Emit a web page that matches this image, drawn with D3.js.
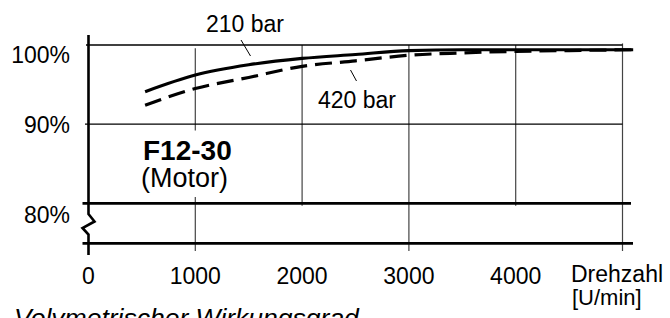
<!DOCTYPE html>
<html><head><meta charset="utf-8">
<script src="https://cdn.jsdelivr.net/npm/d3@7"></script>
<style>
body{margin:0;background:#fff;}
svg{display:block;}
text{font-family:"Liberation Sans",Arial,Helvetica,sans-serif;fill:#000;}
</style></head>
<body>
<svg id="c" width="670" height="318"></svg>
<script>
// Data
const rpm    = [530, 1000, 1500, 2000, 2500, 3000, 3500, 4000, 4500, 5100];
const eff210 = [94.1, 96.2, 97.5, 98.3, 98.8, 99.3, 99.4, 99.4, 99.4, 99.4];
const eff420 = [92.4, 94.5, 95.9, 97.3, 98.0, 98.7, 99.0, 99.2, 99.3, 99.4];
const xTicks = [0, 1000, 2000, 3000, 4000];
const xTickLabels = ["0", "1000", "2000", "3000", "4000"];
const yTicks = [100, 90, 80];
const yTickLabels = ["100%", "90%", "80%"];
const seriesLabels = ["210 bar", "420 bar"];
const title = ["F12-30", "(Motor)"];
const xAxisTitle = ["Drehzahl", "[U/min]"];
const caption = "Volymetrischer Wirkungsgrad";

const svg = d3.select("#c");
const x = d3.scaleLinear().domain([0, 5000]).range([88.5, 622.5]);
const y = d3.scaleLinear().domain([80, 100]).range([203.3, 45]);
const yBottom = 243.3;

// vertical grid lines (broken segments as in original)
const vSegs = [
  {v:1000, segs:[[y(99.6), y(89.2)], [197, 251]]},
  {v:2000, segs:[[y(100), 205.7]]},
  {v:3000, segs:[[y(100), 251]]},
  {v:4000, segs:[[y(100), 205.7]]},
  {v:5000, segs:[[y(100.2), 251]]}
];
vSegs.forEach(d => d.segs.forEach(s => {
  svg.append("line").attr("x1", x(d.v)).attr("x2", x(d.v))
    .attr("y1", s[0]).attr("y2", s[1])
    .attr("stroke", "#444").attr("stroke-width", 1.2);
}));

// horizontal lines
svg.append("line").attr("x1", 86).attr("x2", x(5000)).attr("y1", y(100)).attr("y2", y(100))
  .attr("stroke", "#000").attr("stroke-width", 1.4);
svg.append("line").attr("x1", 85).attr("x2", x(5000)).attr("y1", y(90)).attr("y2", y(90))
  .attr("stroke", "#000").attr("stroke-width", 1.4);
svg.append("line").attr("x1", 82.5).attr("x2", 631).attr("y1", y(80)).attr("y2", y(80))
  .attr("stroke", "#000").attr("stroke-width", 2.8);
svg.append("line").attr("x1", 82.5).attr("x2", 633).attr("y1", yBottom).attr("y2", yBottom)
  .attr("stroke", "#000").attr("stroke-width", 2.8);

// y axis with break zigzag
const ax = x(0);
svg.append("path")
  .attr("d", `M${ax},35 L${ax},214 L${ax+6},221.5 L${ax-6},228 L${ax},234.5 L${ax},255`)
  .attr("fill", "none").attr("stroke", "#000").attr("stroke-width", 2.6)
  .attr("stroke-linejoin", "miter");

// y tick labels
const yLabelBase = [63, 133, 223];
yTicks.forEach((t, i) => {
  svg.append("text").attr("x", 70).attr("y", yLabelBase[i]).attr("text-anchor", "end")
    .attr("font-size", 23).text(yTickLabels[i]);
});

// x tick labels
xTicks.forEach((t, i) => {
  svg.append("text").attr("x", x(t)).attr("y", 284).attr("text-anchor", "middle")
    .attr("font-size", 23).text(xTickLabels[i]);
});
svg.append("text").attr("x", 571).attr("y", 282).attr("font-size", 23).text(xAxisTitle[0]);
svg.append("text").attr("x", 572).attr("y", 305).attr("font-size", 22).text(xAxisTitle[1]);

// curves
const line = d3.line().x(d => x(d[0])).y(d => y(d[1])).curve(d3.curveMonotoneX);
svg.append("path").datum(rpm.map((r, i) => [r, eff210[i]]))
  .attr("d", line).attr("fill", "none").attr("stroke", "#000").attr("stroke-width", 3.2);
svg.append("path").datum(rpm.map((r, i) => [r, eff420[i]]))
  .attr("d", line).attr("fill", "none").attr("stroke", "#000").attr("stroke-width", 3.2)
  .attr("stroke-dasharray", "17,8");

// series labels with leader lines
svg.append("text").attr("x", 206).attr("y", 31.5).attr("font-size", 23).text(seriesLabels[0]);
svg.append("line").attr("x1", 241).attr("y1", 40).attr("x2", 250.5).attr("y2", 56)
  .attr("stroke", "#000").attr("stroke-width", 1);
svg.append("text").attr("x", 318).attr("y", 108).attr("font-size", 23).text(seriesLabels[1]);
svg.append("line").attr("x1", 350.5).attr("y1", 70).attr("x2", 356.5).attr("y2", 81)
  .attr("stroke", "#000").attr("stroke-width", 1);

// title
svg.append("text").attr("x", 143).attr("y", 159.5).attr("font-size", 28)
  .attr("font-weight", "bold").text(title[0]);
svg.append("text").attr("x", 141).attr("y", 187).attr("font-size", 27).text(title[1]);

// caption (cut off at bottom, as in the original)
svg.append("text").attr("x", 14).attr("y", 327).attr("font-size", 26.5)
  .attr("font-style", "italic").text(caption);
</script>
</body></html>
